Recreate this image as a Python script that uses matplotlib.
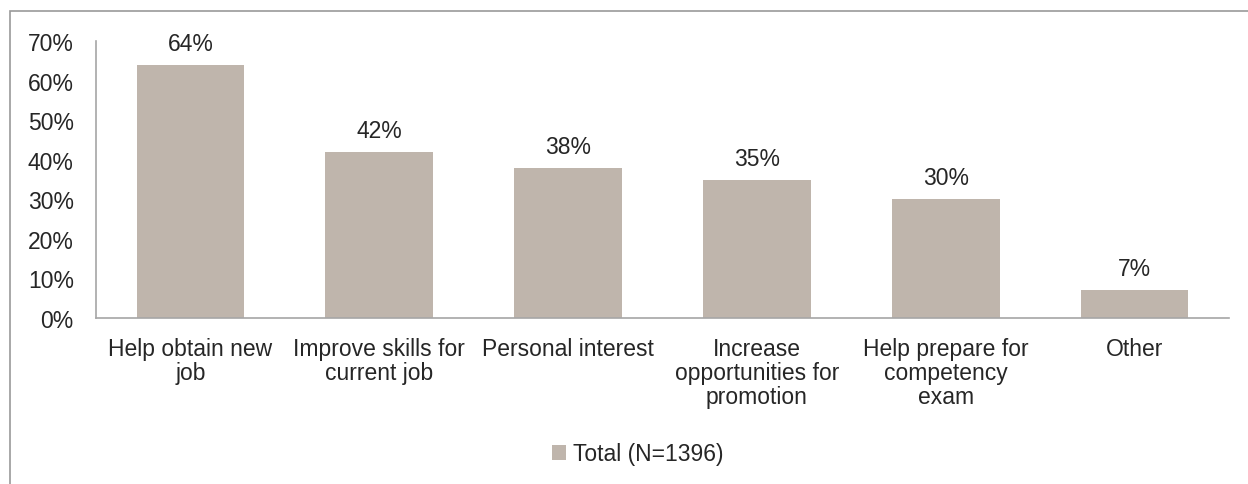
import numpy as np
import matplotlib.pyplot as plt
from matplotlib.patches import Rectangle

plt.rcParams['font.family'] = ['Liberation Sans', 'DejaVu Sans']

categories = ['Help obtain new\njob', 'Improve skills for\ncurrent job', 'Personal interest',
              'Increase\nopportunities for\npromotion', 'Help prepare for\ncompetency\nexam', 'Other']
values = [64, 42, 38, 35, 30, 7]
series_name = 'Total (N=1396)'

bar_color = '#BFB5AC'
text_color = '#262626'

W, H = 1248, 485
fig = plt.figure(figsize=(W / 100, H / 100), dpi=100)
ax = fig.add_axes([96 / W, 1 - 319 / H, (1229 - 96) / W, (319 - 42) / H])

x = np.arange(len(categories))
bars = ax.bar(x, values, width=0.57, color=bar_color, label=series_name)
for xi, v in zip(x, values):
    ax.text(xi, v + 2.5, f'{v}%', ha='center', va='bottom', fontsize=16.5, color=text_color)

ax.set_xlim(-0.5, len(categories) - 0.5)
ax.set_ylim(0, 70)
ax.set_yticks(np.arange(0, 71, 10))
ax.set_yticklabels([f'{t}%' for t in range(0, 71, 10)], fontsize=16.5, color=text_color)
ax.set_xticks(x)
ax.set_xticklabels(categories, fontsize=16.5, color=text_color, linespacing=1.05)
ax.tick_params(axis='y', length=0, pad=16)
ax.tick_params(axis='x', length=0, pad=13.5)
for s in ['top', 'right']:
    ax.spines[s].set_visible(False)
for s in ['left', 'bottom']:
    ax.spines[s].set_color('#A6A6A6')
    ax.spines[s].set_linewidth(1.2)

fig.legend(handles=[bars], labels=[series_name], loc='center', bbox_to_anchor=(638 / W, 1 - 455 / H),
           frameon=False, fontsize=16.5, handlelength=0.6, handleheight=0.6, handletextpad=0.3,
           labelcolor=text_color)

# outer chart frame (cut off on right and bottom)
fig.patches.append(Rectangle((10 / W, -0.05), 1.1, 1 - 12 / H + 0.05, transform=fig.transFigure,
                             fill=False, edgecolor='#999999', linewidth=1.2))

fig.savefig('out.png', dpi=100)
